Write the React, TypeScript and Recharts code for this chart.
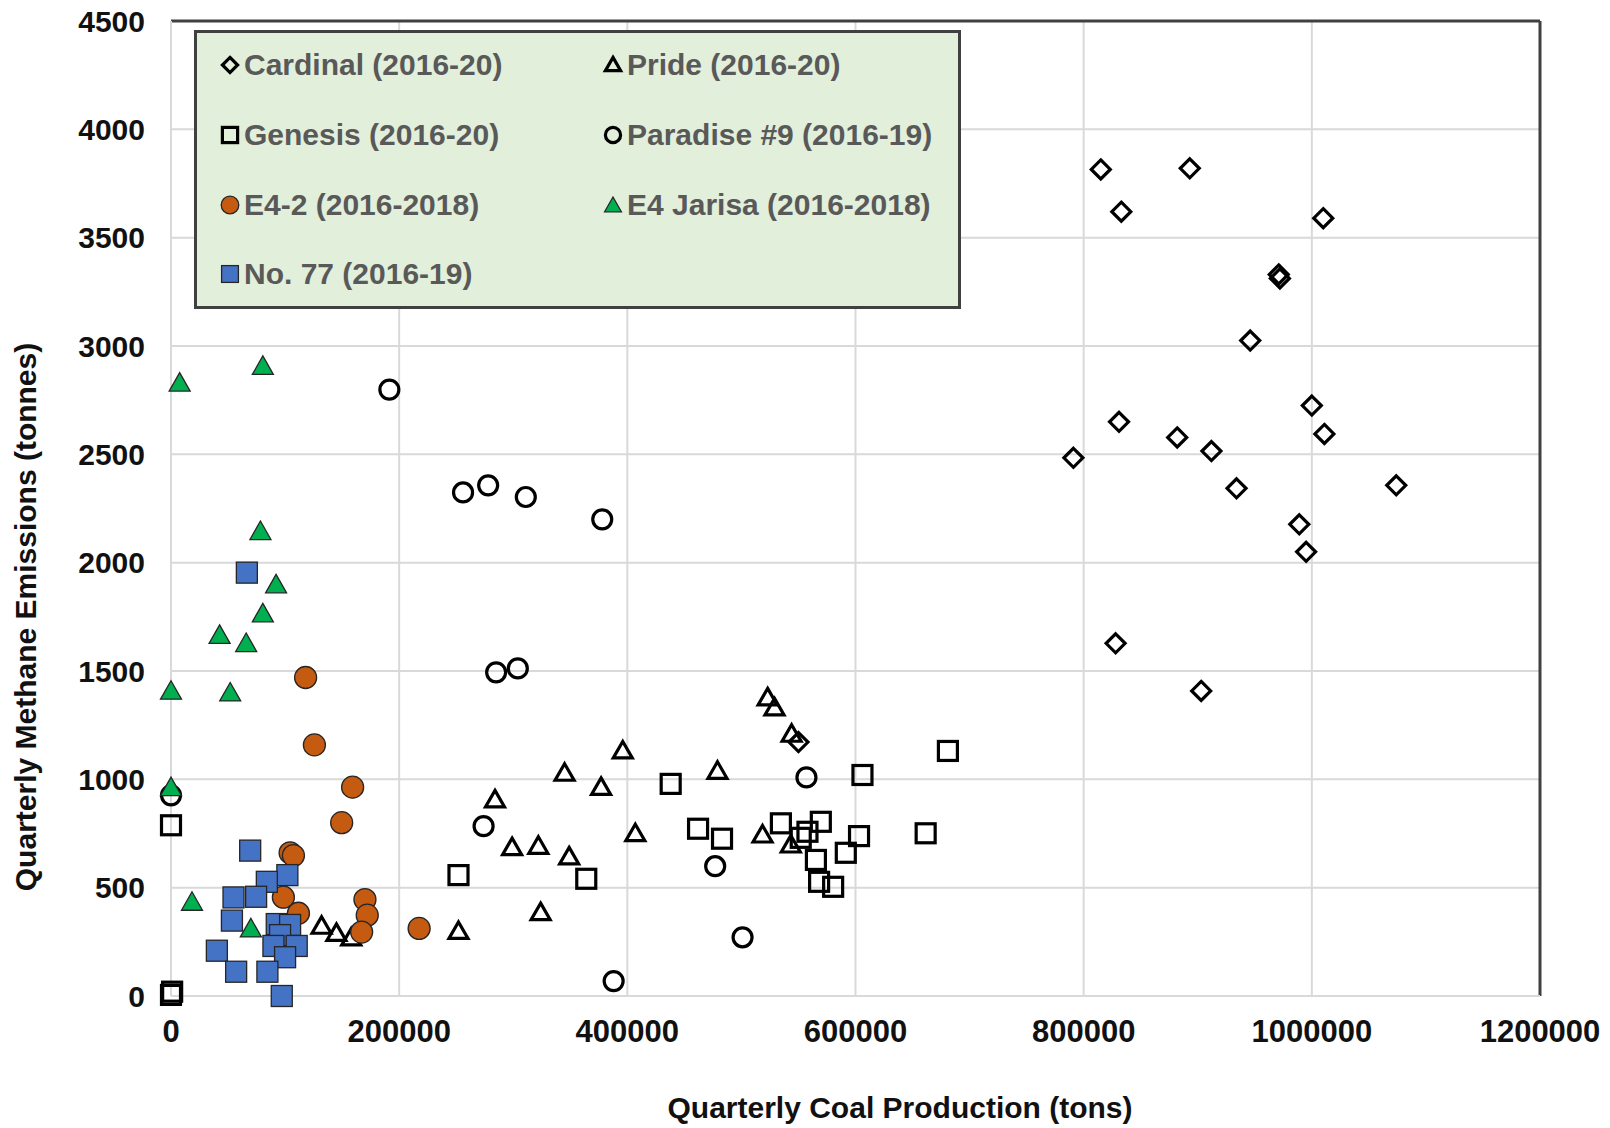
import React from 'react'
import { ScatterChart, Scatter, XAxis, YAxis, CartesianGrid, Legend, ReferenceLine } from 'recharts'

const FONT = "'Liberation Sans', Arial, Helvetica, sans-serif"

const xTicks = [0, 200000, 400000, 600000, 800000, 1000000, 1200000]
const yTicks = [0, 500, 1000, 1500, 2000, 2500, 3000, 3500, 4000, 4500]

// [coal production (tons), methane (tonnes)]
const cardinal: [number, number][] = [
  [815000, 3815], [893000, 3820], [833000, 3620], [1010000, 3590], [971000, 3330],
  [972000, 3312], [946000, 3025], [1000000, 2725], [831000, 2650], [1011000, 2594],
  [882000, 2578], [912000, 2515], [791000, 2484], [1074000, 2357], [934000, 2343],
  [989000, 2177], [995000, 2050], [828000, 1628], [903000, 1408], [550000, 1172],
]
const pride: [number, number][] = [
  [523000, 1376], [529000, 1330], [544000, 1208], [396000, 1131], [345000, 1028],
  [377000, 963], [479000, 1037], [284000, 905], [407000, 749], [299000, 685],
  [322000, 691], [349000, 642], [518500, 743], [543300, 697], [324000, 385],
  [252000, 298], [132000, 322], [145000, 289], [158000, 268],
]
const genesis: [number, number][] = [
  [0, 5], [1000, 20], [0, 788], [252000, 558], [364000, 541], [438000, 979],
  [462000, 772], [483000, 726], [534600, 797], [557900, 758], [552000, 730],
  [569600, 804], [565300, 628], [568100, 527], [580400, 504], [591500, 661],
  [603100, 738], [606100, 1020], [661500, 751], [681000, 1131],
]
const paradise: [number, number][] = [
  [0, 926], [191400, 2799], [256000, 2324], [278000, 2357], [311000, 2303],
  [378000, 2200], [285000, 1494], [304000, 1512], [274000, 784], [477000, 599],
  [557000, 1009], [501000, 271], [388000, 69],
]
const e42: [number, number][] = [
  [118000, 1470], [125700, 1159], [159200, 964], [149600, 800], [104400, 661],
  [107300, 648], [98500, 456], [111700, 382], [170000, 445], [172000, 373],
  [167100, 295], [217500, 312],
]
const jarisa: [number, number][] = [
  [7600, 2831], [80500, 2908], [78400, 2146], [92100, 1900], [80500, 1766],
  [42600, 1667], [65900, 1629], [0, 1409], [51900, 1401], [0, 964],
  [18400, 435], [70000, 312],
]
const no77: [number, number][] = [
  [66500, 1954], [69400, 671], [102000, 558], [84000, 527], [54800, 455],
  [74600, 458], [53400, 348], [92700, 332], [104400, 328], [95600, 281],
  [89800, 231], [110200, 231], [100000, 179], [40200, 209], [57100, 112],
  [84500, 112], [97100, 0],
]

const pts = (a: [number, number][]) => a.map(([x, y]) => ({ x, y }))

type Kind = 'diamond' | 'openTri' | 'openSq' | 'openCirc' | 'orange' | 'green' | 'blue'

function Marker({ kind, cx = 0, cy = 0, s = 1 }: { kind: Kind; cx?: number; cy?: number; s?: number }) {
  const open = { fill: 'none', stroke: '#000', strokeWidth: 3.2 }
  const solid = { stroke: '#262626', strokeWidth: 1.3 }
  switch (kind) {
    case 'diamond': {
      const r = 9.5 * s
      return <path d={`M${cx},${cy - r}L${cx + r},${cy}L${cx},${cy + r}L${cx - r},${cy}Z`} {...open} />
    }
    case 'openTri': {
      const w = 9.5 * s
      return <path d={`M${cx},${cy - 9.5 * s}L${cx + w},${cy + 7 * s}L${cx - w},${cy + 7 * s}Z`} {...open} />
    }
    case 'openSq': {
      const h = 9.5 * s
      return <rect x={cx - h} y={cy - h} width={2 * h} height={2 * h} {...open} />
    }
    case 'openCirc':
      return <circle cx={cx} cy={cy} r={9.5 * s} {...open} />
    case 'orange':
      return <circle cx={cx} cy={cy} r={11 * s} fill="#C55A11" {...solid} />
    case 'green': {
      const w = 10.5 * s
      return <path d={`M${cx},${cy - 10 * s}L${cx + w},${cy + 8.5 * s}L${cx - w},${cy + 8.5 * s}Z`} fill="#00B050" {...solid} />
    }
    case 'blue': {
      const h = 10.5 * s
      return <rect x={cx - h} y={cy - h} width={2 * h} height={2 * h} fill="#4472C4" {...solid} />
    }
  }
  return null
}

const legendRows: { kind: Kind; label: string }[][] = [
  [{ kind: 'diamond', label: 'Cardinal (2016-20)' }, { kind: 'openTri', label: 'Pride (2016-20)' }],
  [{ kind: 'openSq', label: 'Genesis (2016-20)' }, { kind: 'openCirc', label: 'Paradise #9 (2016-19)' }],
  [{ kind: 'orange', label: 'E4-2 (2016-2018)' }, { kind: 'green', label: 'E4 Jarisa (2016-2018)' }],
  [{ kind: 'blue', label: 'No. 77 (2016-19)' }],
]

function LegendBox() {
  const colX = [33, 416]
  const rowY = [32, 102, 171.5, 241]
  return (
    <div style={{ position: 'relative', width: '100%', height: '100%' }}>
      {legendRows.map((row, ri) =>
        row.map((it, ci) => (
          <div
            key={it.label}
            style={{
              position: 'absolute', left: colX[ci] - 10, top: rowY[ri] - 16, height: 32,
              display: 'flex', alignItems: 'center', whiteSpace: 'nowrap',
            }}
          >
            <svg width={20} height={20} style={{ overflow: 'visible' }}>
              <Marker kind={it.kind} cx={10} cy={10} s={0.8} />
            </svg>
            <span style={{ marginLeft: 4, fontFamily: FONT, fontWeight: 700, fontSize: 30, color: '#595959' }}>
              {it.label}
            </span>
          </div>
        ))
      )}
    </div>
  )
}

const XTick = ({ x, y, payload }: any) => (
  <text x={x} y={y} dy="0.71em" textAnchor="middle" fontFamily={FONT} fontWeight={700} fontSize={31} fill="#111">
    {payload.value}
  </text>
)

const YTick = ({ x, y, payload }: any) => (
  <text x={x} y={y} dy="0.36em" textAnchor="end" fontFamily={FONT} fontWeight={700} fontSize={30} fill="#111">
    {payload.value}
  </text>
)

const XTitle = () => (
  <text x={900} y={1118} textAnchor="middle" fontFamily={FONT} fontWeight={700} fontSize={30} fill="#111">
    Quarterly Coal Production (tons)
  </text>
)

const YTitle = () => (
  <text x={36} y={617} transform="rotate(-90 36 617)" textAnchor="middle" fontFamily={FONT} fontWeight={700} fontSize={30} fill="#111">
    Quarterly Methane Emissions (tonnes)
  </text>
)

const series: { name: string; kind: Kind; data: [number, number][] }[] = [
  { name: 'Cardinal (2016-20)', kind: 'diamond', data: cardinal },
  { name: 'Pride (2016-20)', kind: 'openTri', data: pride },
  { name: 'Genesis (2016-20)', kind: 'openSq', data: genesis },
  { name: 'Paradise #9 (2016-19)', kind: 'openCirc', data: paradise },
  { name: 'E4-2 (2016-2018)', kind: 'orange', data: e42 },
  { name: 'E4 Jarisa (2016-2018)', kind: 'green', data: jarisa },
  { name: 'No. 77 (2016-19)', kind: 'blue', data: no77 },
]

export default function App() {
  return (
    <div style={{ position: 'absolute', left: 0, top: 0, width: 1610, height: 1128, background: '#fff' }}>
      <ScatterChart width={1610} height={1128} margin={{ top: 21, right: 70, bottom: 0, left: 71 }}>
        <CartesianGrid stroke="#D9D9D9" strokeWidth={2} />
        <XAxis
          type="number"
          dataKey="x"
          domain={[0, 1200000]}
          ticks={xTicks}
          interval={0}
          height={132}
          tickLine={false}
          tickSize={0}
          tickMargin={24}
          axisLine={{ stroke: '#D9D9D9', strokeWidth: 2 }}
          tick={<XTick />}
          label={<XTitle />}
        />
        <YAxis
          type="number"
          dataKey="y"
          domain={[0, 4500]}
          ticks={yTicks}
          interval={0}
          width={100}
          tickLine={false}
          tickSize={0}
          tickMargin={26}
          axisLine={{ stroke: '#D9D9D9', strokeWidth: 2 }}
          tick={<YTick />}
          label={<YTitle />}
        />
        <ReferenceLine y={4500} stroke="#404040" strokeWidth={3} />
        <ReferenceLine x={1200000} stroke="#404040" strokeWidth={3} />
        <Legend
          layout="horizontal"
          verticalAlign="middle"
          align="center"
          content={() => <LegendBox />}
          wrapperStyle={{
            left: 194, top: 30, width: 767, height: 279, background: '#E2EFDA',
            border: '3px solid #404040', boxSizing: 'border-box', margin: 0,
          }}
        />
        {series.map((s) => (
          <Scatter
            key={s.name}
            name={s.name}
            data={pts(s.data)}
            isAnimationActive={false}
            shape={(p: any) => <Marker kind={s.kind} cx={p.cx} cy={p.cy} />}
          />
        ))}
      </ScatterChart>
    </div>
  )
}
